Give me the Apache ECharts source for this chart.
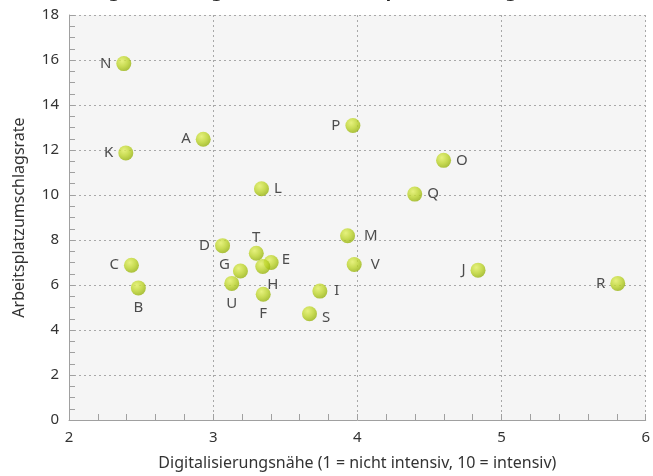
<!DOCTYPE html>
<html><head><meta charset="utf-8">
<script src="https://cdn.jsdelivr.net/npm/echarts@6/dist/echarts.min.js"></script>
<style>html,body{margin:0;padding:0;background:#fff}#c{width:653px;height:476px}</style>
</head><body><div id="c"></div>
<script>
const names = ['A','B','C','D','E','F','G','H','I','J','K','L','M','N','O','P','Q','R','S','T','U','V'];
const xVals = [2.931,2.481,2.433,3.065,3.402,3.347,3.189,3.344,3.740,4.837,2.394,3.335,3.932,2.380,4.598,3.969,4.398,5.806,3.668,3.299,3.129,3.978];
const yVals = [12.48,5.87,6.88,7.75,7.00,5.59,6.62,6.82,5.73,6.66,11.87,10.28,8.19,15.84,11.54,13.09,10.04,6.07,4.72,7.41,6.07,6.91];
const labelPos = {A:'left',B:'bottom',C:'left',D:'left',E:'right',F:'bottom',G:'left',H:'bottom',I:'right',J:'left',K:'left',L:'right',M:'right',N:'left',O:'right',P:'left',Q:'right',R:'left',S:'right',T:'top',U:'bottom',V:'right'};
const labelOff = {E:[-2,-3],G:[2,-6],H:[10,-2],S:[0,4],T:[0,4],I:[2,0],M:[4,0],V:[4,0]};
const titleText = 'Digitalisierungsnähe und Arbeitsplatzumschlagsrate';
const xName = 'Digitalisierungsnähe (1 = nicht intensiv, 10 = intensiv)';
const yName = 'Arbeitsplatzumschlagsrate';

const font = "'Noto Sans', sans-serif";
const data = names.map((n,i)=>({
  value:[xVals[i], yVals[i]], name:n,
  label:{position:labelPos[n], offset:labelOff[n]||[0,0]}
}));
const chart = echarts.init(document.getElementById('c'), null, {renderer:'canvas'});
const axisCommon = {
  axisLine:{show:true, lineStyle:{color:'#a0a0a0', width:1}},
  axisTick:{show:true, inside:true, length:6, lineStyle:{color:'#a0a0a0'}},
  splitLine:{show:true, lineStyle:{color:'#a8a8a8', type:[2,3], width:1}},
  nameTextStyle:{color:'#333', fontSize:16, fontFamily:font}
};
chart.setOption({
  animation:false,
  backgroundColor:'#fff',
  title:{text:titleText, left:'center', top:-22, textStyle:{fontSize:18, fontWeight:'bold', color:'#222', fontFamily:font}},
  grid:{left:69, right:4, top:15, bottom:52, show:true, backgroundColor:'#f5f5f5', borderWidth:0},
  xAxis:Object.assign({type:'value', min:2, max:6, interval:1, name:xName, nameLocation:'middle', nameGap:35}, axisCommon, {minorTick:{show:true, splitNumber:5, length:6, lineStyle:{color:'#a0a0a0'}}, axisLabel:{color:'#333', fontSize:15, fontFamily:font, margin:10}}),
  yAxis:Object.assign({type:'value', min:0, max:18, interval:2, name:yName, nameLocation:'middle', nameGap:42}, axisCommon, {minorTick:{show:true, splitNumber:4, length:6, lineStyle:{color:'#a0a0a0'}}, axisLabel:{color:'#333', fontSize:15, fontFamily:font, margin:10}}),
  series:[{
    type:'scatter', symbol:'circle', symbolSize:15,
    itemStyle:{color:{type:'radial', x:0.38, y:0.32, r:0.72, colorStops:[{offset:0,color:'#e2f060'},{offset:0.55,color:'#bcd42a'},{offset:1,color:'#94b00c'}]}},
    label:{show:true, formatter:'{b}', color:'#222', fontSize:15, fontFamily:font, distance:5},
    data:data
  }]
});
</script></body></html>
